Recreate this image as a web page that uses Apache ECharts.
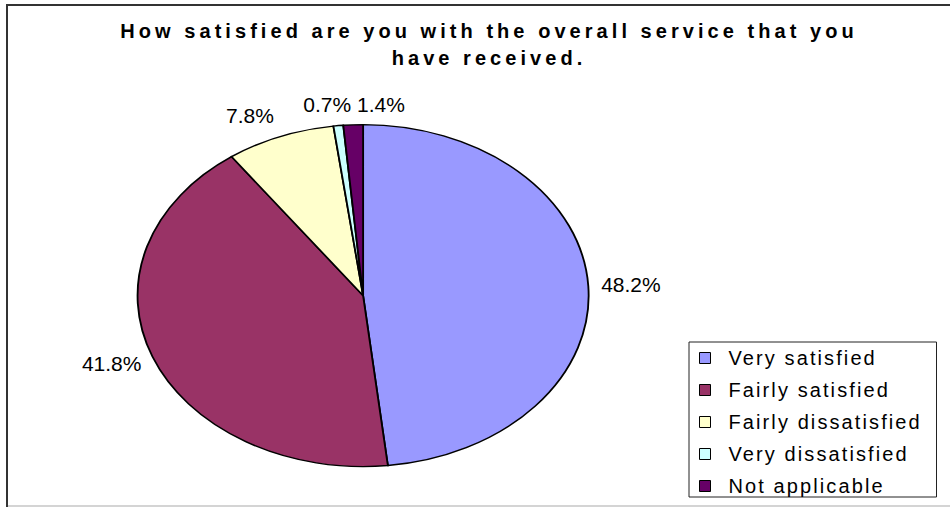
<!DOCTYPE html>
<html>
<head>
<meta charset="utf-8">
<script src="https://cdn.jsdelivr.net/npm/echarts@6/dist/echarts.min.js"></script>
<style>
  html, body { margin: 0; padding: 0; background: #fff; }
  #chart { width: 950px; height: 507px; }
  /* wide tracking for legend entries and the bold title */
  #chart svg text[style*="20px"] { letter-spacing: 2.1px; }
  #chart svg text[style*="bold"] { letter-spacing: 4.05px; }
</style>
</head>
<body>
<div id="chart"></div>
<script>
const categories = ['Very satisfied', 'Fairly satisfied', 'Fairly dissatisfied', 'Very dissatisfied', 'Not applicable'];
const shares = [48.2, 41.8, 7.8, 0.7, 1.4];
const sliceColors = ['#9999FF', '#993366', '#FFFFCC', '#CCFFFF', '#660066'];
const titleText = 'How satisfied are you with the overall service that you\nhave received.';

// Ellipse the pie is drawn on
const CX = 363, CY = 295.6, RX = 225.5, RY = 171;

// Where each percentage label sits relative to the rim point at the slice's middle angle
const labelPlacement = [
  { align: 'left',  dx: 13,  dy: -1.5 },
  { align: 'right', dx: -11, dy: 6.5 },
  { align: 'right', dx: -6,  dy: -21 },
  { align: 'right', dx: 13,  dy: -21 },
  { align: 'left',  dx: 4,   dy: -20 }
];

const total = shares.reduce((a, b) => a + b, 0);

function sliceRenderer(i) {
  return function (params, api) {
    const before = shares.slice(0, i).reduce((a, b) => a + b, 0);
    const v = api.value(0);
    const a0 = -Math.PI / 2 + before / total * Math.PI * 2;
    const a1 = a0 + v / total * Math.PI * 2;
    const mid = (a0 + a1) / 2;
    const lp = labelPlacement[i];
    const ax = CX + RX * Math.cos(mid);
    const ay = CY + RY * Math.sin(mid);
    return {
      type: 'group',
      children: [
        {
          type: 'sector',
          shape: { cx: CX, cy: CY, r: RY, r0: 0, startAngle: a0, endAngle: a1, clockwise: true },
          originX: CX, originY: CY, scaleX: RX / RY, scaleY: 1,
          style: { fill: api.visual('color'), stroke: '#000', lineWidth: 1.4, strokeNoScale: true }
        },
        {
          type: 'text',
          x: ax + lp.dx,
          y: ay + lp.dy,
          style: {
            text: v.toFixed(1) + '%',
            fill: '#000',
            font: '21px "Liberation Sans"',
            align: lp.align,
            verticalAlign: 'middle'
          }
        }
      ]
    };
  };
}

const chart = echarts.init(document.getElementById('chart'), null, { renderer: 'svg' });

chart.setOption({
  animation: false,
  backgroundColor: '#fff',
  legend: {
    data: categories,
    orient: 'vertical',
    left: 689,
    top: 342,
    padding: [6, 8, 1, 10],
    itemGap: 12,
    itemWidth: 11,
    itemHeight: 11,
    icon: 'rect',
    borderColor: '#222',
    borderWidth: 1,
    itemStyle: { borderColor: '#000', borderWidth: 1 },
    textStyle: {
      fontFamily: 'Liberation Sans',
      fontSize: 20,
      lineHeight: 20,
      color: '#000',
      width: 200,
      padding: [0, 0, 0, 13]
    }
  },
  graphic: [
    { type: 'rect', silent: true, shape: { x: 6, y: 4, width: 950, height: 2 }, style: { fill: '#333' } },
    { type: 'rect', silent: true, shape: { x: 6, y: 4, width: 2, height: 510 }, style: { fill: '#333' } },
    { type: 'rect', silent: true, shape: { x: 8, y: 505, width: 950, height: 2 }, style: { fill: '#d4d4d4' } },
    {
      type: 'text',
      silent: true,
      x: 489,
      y: 17.5,
      style: {
        text: titleText,
        font: 'bold 20px "Liberation Sans"',
        lineHeight: 27,
        fill: '#000',
        align: 'center',
        verticalAlign: 'top'
      }
    }
  ],
  series: categories.map((name, i) => ({
    type: 'custom',
    name: name,
    coordinateSystem: 'none',
    color: sliceColors[i],
    renderItem: sliceRenderer(i),
    data: [[shares[i]]]
  }))
});
</script>
</body>
</html>
